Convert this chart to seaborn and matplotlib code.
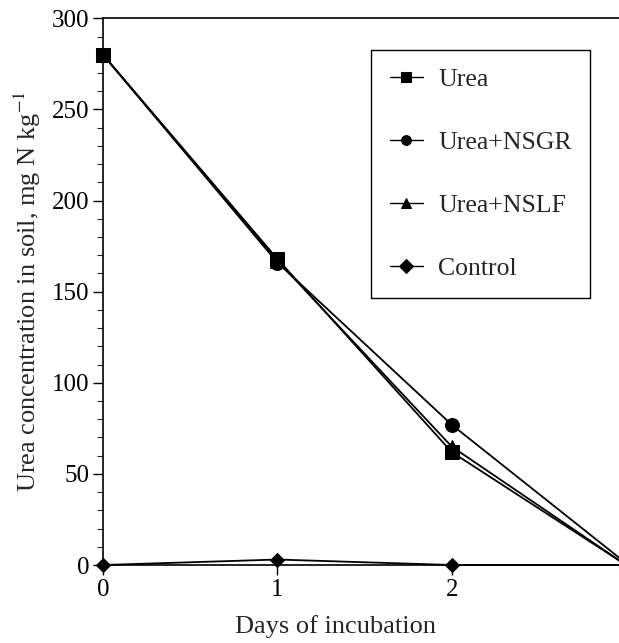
import numpy as np
import pandas as pd
import matplotlib
matplotlib.use("Agg")
import matplotlib.pyplot as plt
import seaborn as sns
from matplotlib.ticker import MultipleLocator

# (day 3 lies just past the cropped right edge)
DAYS = [0, 1, 2, 3]
TREATMENTS = ["Urea", "Urea+NSGR", "Urea+NSLF", "Control"]
UREA = [280, 168, 62, 0]
UREA_NSGR = [280, 166, 77, 1]
UREA_NSLF = [280, 167, 65, 0]
CONTROL = [0, 3, 0, 0]
MARKERS = {"Urea": "s", "Urea+NSGR": "o", "Urea+NSLF": "^", "Control": "D"}
MSIZE = {"Urea": 10, "Urea+NSGR": 10, "Urea+NSLF": 10, "Control": 7}

df = pd.DataFrame({
    "day": DAYS * 4,
    "conc": UREA + UREA_NSGR + UREA_NSLF + CONTROL,
    "treatment": np.repeat(TREATMENTS, len(DAYS)),
})

sns.set_style("ticks")
plt.rcParams["font.family"] = ["Liberation Serif", "DejaVu Serif"]
plt.rcParams["mathtext.fontset"] = "stix"

fig = plt.figure(figsize=(6.19, 6.43), dpi=100)
ax = fig.add_axes([0.1664, 0.1213, 0.845, 0.8502])

for t in TREATMENTS:
    sub = df[df["treatment"] == t]
    sns.lineplot(data=sub, x="day", y="conc", color="black", marker=MARKERS[t],
                 markersize=MSIZE[t], markeredgecolor="black", linewidth=1.3,
                 label=t, ax=ax, clip_on=False)

ax.set_xlim(0, 3)
ax.set_ylim(0, 300)
ax.set_xticks([0, 1, 2])
ax.set_yticks(range(0, 301, 50))
ax.yaxis.set_minor_locator(MultipleLocator(10))
ax.tick_params(axis="both", which="major", direction="out", length=7, width=1,
               labelsize=18, pad=3, colors="black")
ax.tick_params(axis="y", which="minor", direction="out", length=4, width=0.8)
for s in ["left", "bottom", "top"]:
    ax.spines[s].set_linewidth(1.2)
    ax.spines[s].set_color("black")
ax.spines["right"].set_visible(False)

ax.set_xlabel("Days of incubation", fontsize=19)
ax.xaxis.set_label_coords(0.4436, -0.092)
ax.set_ylabel("Urea concentration in soil, mg N kg$^{-1}$", fontsize=19, labelpad=6)

leg = ax.legend(loc="upper left", bbox_to_anchor=(371 / 619, 1 - 50 / 643),
                bbox_transform=fig.transFigure, fontsize=18.5, frameon=True,
                fancybox=False, edgecolor="black", framealpha=1,
                handlelength=1.3, handletextpad=0.6, labelspacing=1.55,
                borderpad=0.72, borderaxespad=0)
leg.get_frame().set_linewidth(1.0)
for h in leg.legend_handles:
    h.set_markersize(7)
    h.set_linewidth(1.0)

fig.savefig("out.png", dpi=100, facecolor="white")
